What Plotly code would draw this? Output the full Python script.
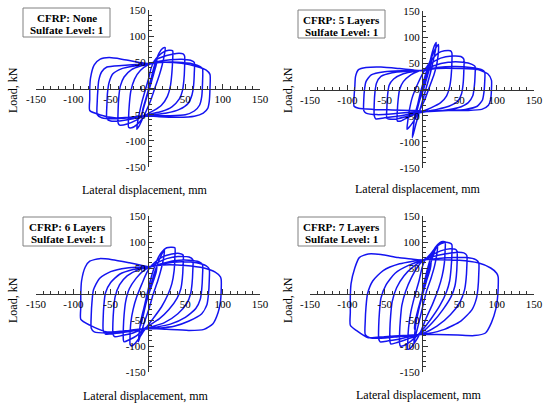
import plotly.graph_objects as go

# ---------------- data (lateral displacement mm, load kN), traced per cycle ----------------
none_pts = [
    (0, 0), (4, 18), (8, 36), (11, 50), (12, 55), (11, 45), (6, 20), (2, 0), (-2, -18), (-6, -38), (-8, -50), (-7, -40), (-3, -20), (0, -5), (3, 10),
    (6, 30), (10, 50), (15, 68), (20, 77), (23, 78), (22, 65), (19, 45), (15, 25), (9, 0), (3, -25), (-3, -45), (-8, -60), (-12, -72), (-15, -78), (-14, -65), (-12, -50), (-8, -25), (-3, 0), (1, 20), (4, 38),
    (8, 52), (14, 62), (21, 70), (28, 73), (33, 72), (33, 55), (32, 30), (30, 5), (26, -15), (18, -32), (8, -42), (0, -48), (-6, -55), (-14, -68), (-22, -75), (-26, -74), (-26, -55), (-25, -30), (-23, -5), (-18, 18), (-10, 35), (0, 45), (5, 48),
    (12, 56), (25, 63), (38, 67), (47, 66), (49, 62), (49, 40), (48, 15), (46, -5), (42, -20), (32, -35), (18, -44), (5, -48), (-5, -51), (-15, -60), (-28, -68), (-38, -70), (-40, -66), (-40, -40), (-39, -15), (-37, 5), (-32, 22), (-22, 36), (-10, 43), (3, 47),
    (15, 52), (30, 55), (45, 56), (57, 54), (62, 50), (62, 30), (61, 5), (59, -12), (54, -28), (42, -40), (25, -47), (8, -50), (-5, -52), (-20, -58), (-38, -62), (-50, -62), (-55, -58), (-55, -30), (-54, -5), (-52, 12), (-47, 28), (-35, 38), (-18, 43), (3, 47),
    (20, 50), (40, 50), (60, 47), (70, 42), (73, 38), (73, 10), (72, -15), (69, -32), (62, -43), (50, -50), (30, -52), (10, -52), (-5, -53), (-25, -56), (-45, -58), (-62, -56), (-68, -50), (-68, -25), (-67, 0), (-66, 15), (-62, 32), (-55, 41), (-35, 44), (-15, 46), (3, 48),
    (20, 50), (45, 48), (65, 42), (78, 35), (83, 27), (83, 0), (82, -25), (80, -38), (74, -47), (62, -53), (40, -55), (15, -54), (-5, -52), (-25, -55), (-45, -56), (-65, -50), (-78, -42), (-78, -20), (-78, 0), (-77, 20), (-72, 45), (-64, 56), (-52, 59), (-35, 56), (-20, 52), (-8, 49), (3, 47),
]

l5_pts = [
    (0, 0), (5, 25), (10, 50), (13, 62), (12, 50), (7, 25), (2, 0), (-3, -20), (-7, -42), (-9, -55), (-8, -40), (-4, -20), (0, 0),
    (5, 25), (10, 50), (14, 72), (17, 85), (19, 90), (18, 75), (15, 55), (11, 30), (6, 5), (1, -20), (-4, -45), (-8, -65), (-11, -82), (-13, -92), (-12, -78), (-10, -55), (-6, -30), (-2, -5), (3, 20),
    (7, 40), (13, 62), (18, 78), (22, 86), (22, 72), (20, 50), (16, 28), (10, 5), (3, -22), (-4, -42), (-10, -58), (-16, -70), (-20, -76), (-19, -60), (-17, -40), (-13, -15), (-6, 10), (0, 28),
    (5, 40), (12, 55), (22, 70), (30, 74), (38, 74), (40, 70), (40, 50), (39, 25), (37, 5), (33, -12), (25, -25), (12, -35), (0, -42), (-8, -46), (-18, -53), (-28, -60), (-33, -60), (-33, -40), (-32, -20), (-30, 0), (-25, 15), (-15, 28), (-5, 35), (3, 38),
    (10, 48), (25, 60), (40, 64), (52, 63), (56, 58), (56, 35), (55, 10), (53, -8), (48, -22), (36, -32), (20, -38), (5, -42), (-8, -46), (-22, -52), (-38, -57), (-47, -55), (-47, -35), (-46, -10), (-44, 8), (-38, 20), (-25, 30), (-10, 35), (3, 37),
    (15, 45), (35, 52), (55, 52), (67, 48), (71, 44), (71, 25), (70, 5), (68, -12), (62, -25), (48, -35), (28, -40), (8, -42), (-8, -45), (-28, -50), (-50, -54), (-62, -56), (-64, -50), (-64, -28), (-63, -5), (-61, 12), (-55, 25), (-40, 32), (-20, 35), (3, 37),
    (20, 42), (45, 44), (65, 42), (80, 38), (84, 33), (84, 15), (83, -5), (81, -20), (74, -32), (58, -38), (35, -40), (10, -42), (-10, -43), (-35, -46), (-60, -48), (-75, -45), (-78, -40), (-78, -20), (-77, 0), (-75, 15), (-68, 28), (-50, 34), (-25, 36), (3, 37),
    (20, 40), (50, 40), (75, 38), (88, 30), (93, 18), (93, 0), (92, -18), (89, -30), (80, -38), (60, -40), (30, -40), (5, -41), (-15, -40), (-40, -39), (-65, -38), (-85, -36), (-91, -32), (-91, -15), (-90, 5), (-89, 25), (-85, 38), (-75, 42), (-55, 43), (-30, 40), (-10, 37), (3, 36),
]

l6_pts = [
    (0, 0), (4, 18), (8, 38), (12, 55), (11, 42), (6, 20), (1, 0), (-3, -20), (-7, -45), (-10, -62), (-9, -48), (-5, -25), (0, -2),
    (4, 18), (9, 42), (14, 62), (19, 78), (22, 85), (21, 70), (18, 50), (13, 25), (7, 0), (1, -30), (-5, -55), (-9, -75), (-12, -88), (-13, -92), (-12, -78), (-10, -55), (-6, -30), (-2, -5), (3, 25), (7, 45),
    (12, 65), (18, 80), (25, 89), (32, 90), (36, 89), (36, 70), (35, 45), (32, 20), (27, 0), (18, -25), (8, -45), (0, -60), (-6, -72), (-12, -85), (-18, -96), (-22, -100), (-24, -97), (-24, -80), (-23, -55), (-20, -30), (-15, -5), (-8, 20), (-2, 40), (3, 52),
    (10, 62), (20, 72), (32, 77), (42, 78), (47, 75), (47, 55), (46, 30), (44, 10), (39, -8), (28, -30), (15, -48), (2, -60), (-6, -68), (-15, -80), (-25, -88), (-32, -92), (-33, -88), (-33, -65), (-32, -40), (-30, -15), (-25, 10), (-16, 30), (-6, 45), (3, 52),
    (12, 60), (25, 68), (40, 72), (55, 71), (60, 66), (60, 45), (59, 20), (57, 0), (52, -18), (40, -38), (22, -55), (5, -63), (-8, -68), (-20, -75), (-35, -80), (-45, -82), (-47, -76), (-47, -55), (-46, -30), (-44, -5), (-38, 18), (-28, 35), (-14, 46), (3, 52),
    (15, 57), (35, 64), (55, 65), (68, 62), (73, 56), (73, 35), (72, 10), (70, -10), (64, -28), (50, -45), (30, -58), (10, -64), (-8, -68), (-25, -72), (-45, -76), (-57, -77), (-60, -70), (-60, -45), (-59, -20), (-57, 2), (-50, 22), (-38, 38), (-20, 47), (3, 52),
    (20, 58), (45, 62), (65, 60), (78, 54), (82, 48), (82, 25), (81, 0), (79, -20), (72, -38), (55, -52), (35, -62), (12, -66), (-8, -68), (-30, -72), (-55, -75), (-72, -73), (-76, -66), (-76, -40), (-75, -15), (-73, 8), (-65, 30), (-50, 43), (-28, 50), (3, 53),
    (20, 56), (50, 55), (75, 50), (90, 42), (97, 33), (98, 28), (98, 5), (97, -15), (94, -35), (87, -57), (75, -68), (55, -70), (25, -68), (0, -66), (-25, -70), (-55, -73), (-78, -60), (-90, -49), (-90, -25), (-90, 0), (-89, 25), (-84, 52), (-78, 63), (-65, 68), (-48, 66), (-25, 60), (-8, 55), (2, 52),
]

l7_pts = [
    (0, 0), (4, 20), (8, 42), (12, 62), (11, 48), (6, 25), (1, 0), (-3, -22), (-7, -48), (-10, -68), (-9, -52), (-5, -28), (0, -2),
    (4, 20), (9, 45), (14, 70), (18, 86), (21, 93), (20, 78), (17, 55), (12, 30), (6, 5), (0, -30), (-5, -60), (-9, -82), (-11, -95), (-10, -80), (-8, -55), (-4, -28), (0, 0), (4, 28), (8, 52),
    (13, 75), (18, 90), (24, 99), (28, 101), (31, 100), (31, 85), (30, 60), (27, 35), (22, 10), (14, -20), (6, -45), (-1, -70), (-6, -85), (-12, -98), (-16, -105), (-19, -106), (-19, -90), (-18, -65), (-15, -35), (-10, -5), (-4, 25), (0, 50), (4, 65),
    (12, 78), (20, 92), (30, 99), (37, 98), (40, 95), (40, 75), (39, 50), (37, 25), (33, 5), (24, -22), (12, -48), (0, -70), (-8, -82), (-16, -92), (-24, -99), (-29, -100), (-30, -95), (-30, -75), (-29, -50), (-27, -22), (-22, 5), (-14, 32), (-6, 52), (2, 65),
    (12, 74), (25, 83), (38, 87), (45, 86), (47, 82), (47, 60), (46, 35), (44, 15), (39, -5), (28, -30), (14, -55), (0, -74), (-10, -82), (-22, -88), (-35, -94), (-42, -96), (-43, -90), (-43, -68), (-42, -42), (-40, -15), (-34, 12), (-24, 35), (-12, 52), (2, 65),
    (15, 72), (30, 77), (45, 80), (56, 79), (60, 74), (60, 52), (59, 28), (57, 8), (51, -15), (38, -40), (20, -62), (3, -75), (-10, -80), (-28, -86), (-45, -90), (-56, -92), (-58, -86), (-58, -62), (-57, -35), (-55, -8), (-48, 18), (-36, 40), (-18, 55), (2, 65),
    (18, 68), (40, 70), (60, 70), (72, 66), (76, 60), (76, 38), (75, 12), (73, -8), (67, -30), (52, -52), (30, -68), (8, -76), (-10, -79), (-32, -82), (-55, -85), (-70, -84), (-76, -78), (-76, -52), (-75, -25), (-73, 0), (-66, 25), (-52, 45), (-30, 58), (2, 66),
    (20, 66), (50, 65), (75, 60), (92, 50), (100, 40), (102, 33), (102, 10), (101, -10), (99, -28), (93, -55), (85, -75), (70, -80), (48, -79), (20, -78), (0, -78), (-25, -80), (-50, -82), (-72, -84), (-88, -70), (-96, -60), (-96, -35), (-96, -5), (-95, 20), (-90, 50), (-84, 70), (-72, 77), (-55, 76), (-32, 70), (-12, 67), (0, 65),
]

panel_labels = ["CFRP: None", "CFRP: 5 Layers", "CFRP: 6 Layers", "CFRP: 7 Layers"]
sulfate_label = "Sulfate Level: 1"
x_ticks = [-150, -100, -50, 50, 100, 150]
x_tick_text = ["-150", "-100", "-50", "50", "100", "150"]
y_ticks = [-150, -100, -50, 0, 50, 100, 150]
y_tick_text = ["-150", "-100", "-50", "0", "50", "100", "150"]
x_title = "Lateral displacement, mm"
y_title = "Load, kN"

# ---------------- layout helpers (pixel -> paper) ----------------
W, H = 550, 406
def px(v):
    return v / W
def py(v):
    return 1 - v / H

# plot boxes in pixels: (left, right, top, bottom)
boxes = [(36, 260, 10, 167), (310, 534, 11, 168), (36, 260, 216, 372), (310, 534, 216, 372)]
# legend box rectangles (left, top, right, bottom)
legend_boxes = [(23, 8, 110, 37), (298, 10, 385, 38), (23, 217, 111, 246), (298, 217, 385, 246)]
xtitle_pos = [(145, 190), (418, 189), (146, 396), (419, 395)]
ytitle_pos = [(13, 90), (288, 90), (13, 300), (288, 300)]

all_pts = [none_pts, l5_pts, l6_pts, l7_pts]
FONT = "Liberation Serif"
BLUE = "rgb(20,20,240)"

fig = go.Figure()
layout = dict(
    width=W, height=H, margin=dict(l=0, r=0, t=0, b=0, autoexpand=False),
    paper_bgcolor="white", plot_bgcolor="rgba(0,0,0,0)",
    showlegend=False, font=dict(family=FONT, color="black"),
    annotations=[], shapes=[],
)

for i, pts in enumerate(all_pts):
    suffix = "" if i == 0 else str(i + 1)
    l, r, t, b = boxes[i]
    fig.add_trace(go.Scatter(
        x=[p[0] for p in pts], y=[p[1] for p in pts], mode="lines",
        line=dict(color=BLUE, width=1.5, shape="spline", smoothing=0.6),
        xaxis="x" + suffix, yaxis="y" + suffix, hoverinfo="skip",
    ))
    axis_common = dict(
        range=[-150, 150], anchor="free", showline=True, linecolor="#333", linewidth=1,
        showgrid=False, zeroline=False, ticks="inside", ticklen=5, tickcolor="#333",
        minor=dict(dtick=10, tick0=0, ticks="inside", ticklen=3, tickcolor="#333", showgrid=False),
        tickfont=dict(family=FONT, size=11, color="black"), tickmode="array",
        automargin=False, fixedrange=True,
    )
    layout["xaxis" + suffix] = dict(
        axis_common, domain=[px(l), px(r)], position=py((t + b) / 2),
        tickvals=x_ticks, ticktext=x_tick_text,
    )
    layout["yaxis" + suffix] = dict(
        axis_common, domain=[py(b), py(t)], position=px((l + r) / 2),
        tickvals=y_ticks, ticktext=y_tick_text,
    )
    bl, bt, br, bb = legend_boxes[i]
    layout["shapes"].append(dict(
        type="rect", xref="paper", yref="paper", x0=px(bl), x1=px(br), y0=py(bb), y1=py(bt),
        line=dict(color="#808080", width=1), fillcolor="white",
    ))
    cx = (bl + br) / 2
    layout["annotations"].append(dict(
        text="<b>" + panel_labels[i] + "</b>", xref="paper", yref="paper",
        x=px(cx), y=py(bt + 9.5), xanchor="center", yanchor="middle", showarrow=False,
        font=dict(family=FONT, size=11, color="black"),
    ))
    layout["annotations"].append(dict(
        text="<b>" + sulfate_label + "</b>", xref="paper", yref="paper",
        x=px(cx), y=py(bt + 22), xanchor="center", yanchor="middle", showarrow=False,
        font=dict(family=FONT, size=11, color="black"),
    ))
    xt = xtitle_pos[i]
    layout["annotations"].append(dict(
        text=x_title, xref="paper", yref="paper", x=px(xt[0]), y=py(xt[1]),
        xanchor="center", yanchor="middle", showarrow=False,
        font=dict(family=FONT, size=12, color="black"),
    ))
    yt = ytitle_pos[i]
    layout["annotations"].append(dict(
        text=y_title, xref="paper", yref="paper", x=px(yt[0]), y=py(yt[1]),
        xanchor="center", yanchor="middle", showarrow=False, textangle=-90,
        font=dict(family=FONT, size=12, color="black"),
    ))

fig.update_layout(**layout)
fig.write_html(
    "out.html",
    config={"displayModeBar": False},
    post_script="document.body.style.margin='0px';document.body.style.overflow='hidden';",
)
